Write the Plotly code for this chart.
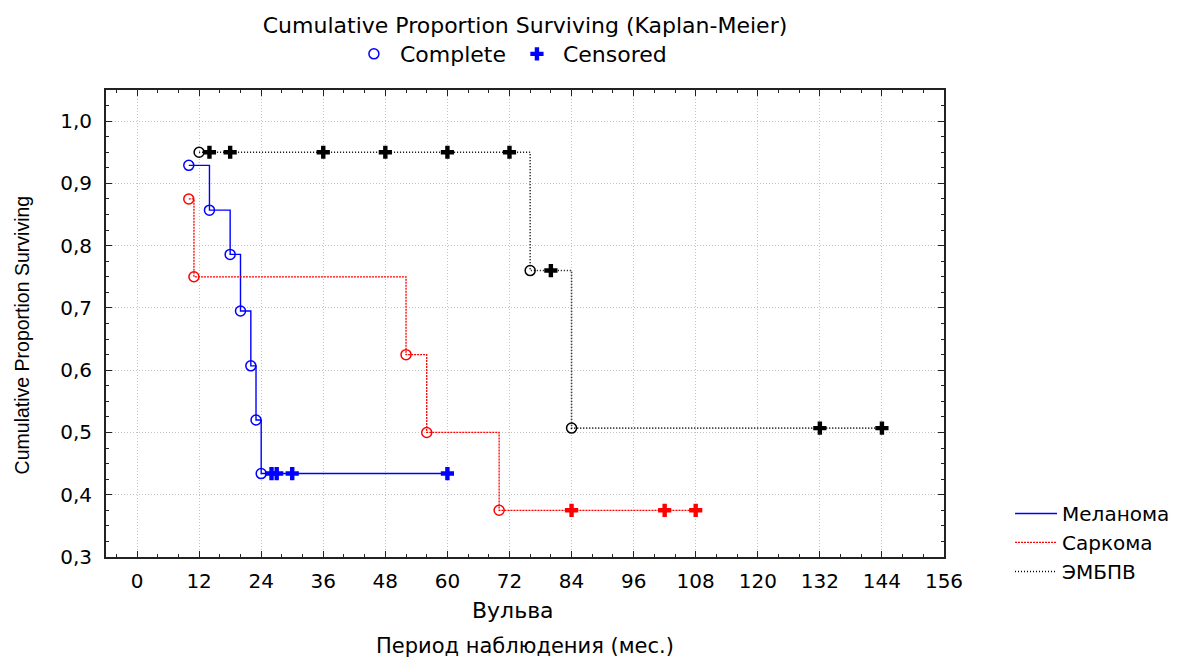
import plotly.graph_objects as go

# ---------------- data ----------------
x_ticks = [0, 12, 24, 36, 48, 60, 72, 84, 96, 108, 120, 132, 144, 156]
y_ticks = [0.3, 0.4, 0.5, 0.6, 0.7, 0.8, 0.9, 1.0]
y_tick_labels = ["0,3", "0,4", "0,5", "0,6", "0,7", "0,8", "0,9", "1,0"]

mel_event_t = [10, 14, 18, 20, 22, 23, 24]
mel_event_s = [0.929, 0.857, 0.786, 0.695, 0.607, 0.520, 0.434]
mel_cens_t = [26, 27, 30, 60]
mel_cens_s = [0.434, 0.434, 0.434, 0.434]

sar_event_t = [10, 11, 52, 56, 70]
sar_event_s = [0.875, 0.750, 0.625, 0.500, 0.375]
sar_cens_t = [84, 102, 108]
sar_cens_s = [0.375, 0.375, 0.375]

emb_event_t = [12, 76, 84]
emb_event_s = [0.950, 0.760, 0.507]
emb_cens_t = [14, 18, 36, 48, 60, 72, 80, 132, 144]
emb_cens_s = [0.950, 0.950, 0.950, 0.950, 0.950, 0.950, 0.760, 0.507, 0.507]

series = [
    ("Меланома", mel_event_t, mel_event_s, mel_cens_t, mel_cens_s, "#0000ff", "solid", 1.4),
    ("Саркома", sar_event_t, sar_event_s, sar_cens_t, sar_cens_s, "#ff0000", "2px,1px", 1.3),
    ("ЭМБПВ", emb_event_t, emb_event_s, emb_cens_t, emb_cens_s, "#000000", "1px,2px", 1.6),
]

FONT = "DejaVu Sans, Liberation Sans, Arial"

fig = go.Figure()

for name, et, es, ct, cs, color, dash, lw in series:
    pts = sorted(list(zip(et, es)) + list(zip(ct, cs)), key=lambda p: p[0])
    fig.add_trace(go.Scatter(
        x=[p[0] for p in pts], y=[p[1] for p in pts],
        mode="lines", line=dict(color=color, width=lw, dash=dash, shape="hv"),
        name=name, legend="legend2", hoverinfo="skip"))
for name, et, es, ct, cs, color, dash, lw in series:
    fig.add_trace(go.Scatter(
        x=et, y=es, mode="markers", showlegend=False,
        marker=dict(symbol="circle-open", size=10, color=color, line=dict(width=1.5, color=color))))
    fig.add_trace(go.Scatter(
        x=ct, y=cs, mode="markers", showlegend=False,
        marker=dict(symbol="cross", size=11, color=color, line=dict(width=0))))

# top legend entries
fig.add_trace(go.Scatter(x=[None], y=[None], mode="markers", name="Complete", legend="legend",
                         marker=dict(symbol="circle-open", size=10, color="#0000ff", line=dict(width=1.5, color="#0000ff"))))
fig.add_trace(go.Scatter(x=[None], y=[None], mode="markers", name="Censored", legend="legend",
                         marker=dict(symbol="cross", size=11, color="#0000ff", line=dict(width=0))))

axis_common = dict(
    showline=True, linewidth=2, linecolor="#222222", mirror="ticks",
    ticks="inside", ticklen=6, tickwidth=1, tickcolor="#222222",
    showgrid=True, gridcolor="#c4c4c4", gridwidth=1, griddash="1px,2px",
    zeroline=False,
    tickfont=dict(family=FONT, size=20, color="#000000"),
)

fig.update_xaxes(
    range=[-6, 156], tickvals=x_ticks, ticktext=[str(v) for v in x_ticks],
    minor=dict(dtick=4, tick0=0, ticks="inside", ticklen=3, tickcolor="#222222", showgrid=False),
    ticklabelstandoff=5,
    **axis_common)
fig.update_yaxes(
    range=[0.3, 1.05], tickvals=y_ticks, ticktext=y_tick_labels,
    minor=dict(dtick=0.025, tick0=0.3, ticks="inside", ticklen=3, tickcolor="#222222", showgrid=False),
    ticklabelstandoff=8,
    **axis_common)

fig.update_layout(
    width=1188, height=659,
    margin=dict(l=106, r=244, t=90, b=102, autoexpand=False),
    paper_bgcolor="white", plot_bgcolor="white",
    font=dict(family=FONT, color="#000000"),
    title=dict(text="Cumulative Proportion Surviving (Kaplan-Meier)", x=0.5, xref="paper",
               xanchor="center", y=1 - 25 / 659, yref="container", yanchor="middle",
               font=dict(family=FONT, size=22, color="#000000")),
    legend=dict(orientation="h", x=0.482, xanchor="center", y=1.077, yanchor="middle",
                xref="paper", yref="paper", font=dict(family=FONT, size=22),
                itemwidth=42, bgcolor="rgba(0,0,0,0)", itemclick=False),
    legend2=dict(orientation="v", x=1.0788, xanchor="left", y=0.135, yanchor="top",
                 xref="paper", yref="paper", font=dict(family=FONT, size=20),
                 itemwidth=42, bgcolor="rgba(0,0,0,0)", tracegroupgap=0),
    showlegend=True,
    annotations=[
        dict(text="Вульва", x=0.486, y=-0.1135, xref="paper", yref="paper",
             xanchor="center", yanchor="middle", showarrow=False,
             font=dict(family=FONT, size=22, color="#000000")),
        dict(text="Период наблюдения (мес.)", x=0.5, y=-0.1906, xref="paper", yref="paper",
             xanchor="center", yanchor="middle", showarrow=False,
             font=dict(family=FONT, size=21, color="#000000")),
        dict(text="Cumulative Proportion Surviving", x=-0.1, y=0.475, xref="paper", yref="paper",
             xanchor="center", yanchor="middle", textangle=-90, showarrow=False,
             font=dict(family="Liberation Sans, Arial", size=19.5, color="#000000")),
    ],
)

fig.write_html("out.html")
